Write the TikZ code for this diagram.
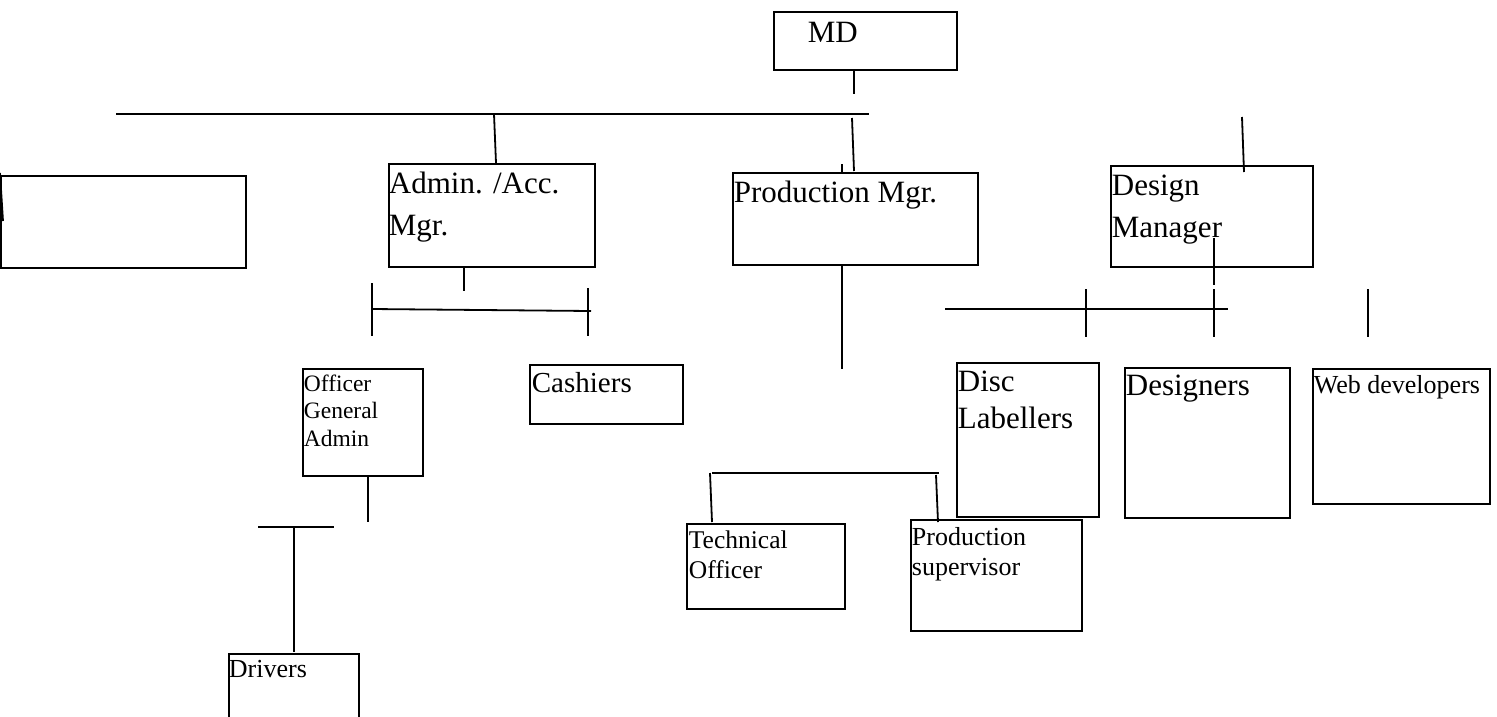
\documentclass[tikz,border=0pt]{standalone}
\usepackage{fontspec}
\setmainfont{Liberation Serif}
\begin{document}
\begin{tikzpicture}[x=1pt,y=-1pt,line width=1.8pt,
  box/.style={draw,line width=1.8pt,inner sep=0pt,anchor=north west},
  lbl/.style={anchor=base west,inner sep=0pt,align=left},
  big/.style={font=\fontsize{31}{42}\selectfont},
  mid/.style={font=\fontsize{26}{30}\selectfont},
  sml/.style={font=\fontsize{23.5}{27.5}\selectfont}]
\useasboundingbox (0,0) rectangle (1497,716);
% boxes
\node[box,minimum width=183pt,minimum height=58pt] (md) at (773,11) {};
\node[box,minimum width=245pt,minimum height=92pt] (blank) at (0,175) {};
\node[box,minimum width=206pt,minimum height=103pt] (admin) at (388,163) {};
\node[box,minimum width=245pt,minimum height=92pt] (prod) at (732,172) {};
\node[box,minimum width=202pt,minimum height=101pt] (design) at (1110,165) {};
\node[box,minimum width=120pt,minimum height=107pt] (officer) at (302,368) {};
\node[box,minimum width=153pt,minimum height=59pt] (cash) at (529,364) {};
\node[box,minimum width=130pt,minimum height=80pt] (drivers) at (228,653) {};
\node[box,minimum width=158pt,minimum height=85pt] (tech) at (686,523) {};
\node[box,minimum width=171pt,minimum height=111pt] (psup) at (910,519) {};
\node[box,minimum width=142pt,minimum height=154pt] (disc) at (956,362) {};
\node[box,minimum width=165pt,minimum height=150pt] (designers) at (1124,367) {};
\node[box,minimum width=177pt,minimum height=135pt] (web) at (1312,368) {};
% texts (anchor = baseline of the last line)
\node[lbl,big] (mdt) at (807,42) {MD};
\node[lbl,big] (admint) at (388,235) {Admin. /Acc.\\Mgr.};
\node[lbl,big] (prodt) at (733,202) {Production Mgr.};
\node[lbl,big] (designt) at (1111,237) {Design\\Manager};
\node[lbl,sml] (officert) at (303,446) {Officer\\General\\Admin};
\node[lbl,font=\fontsize{29}{34}\selectfont] (casht) at (531,392) {Cashiers};
\node[lbl,mid] (driverst) at (228,677) {Drivers};
\node[lbl,font=\fontsize{25.5}{30}\selectfont] (techt) at (688,578) {Technical\\Officer};
\node[lbl,mid] (psupt) at (911,575) {Production\\supervisor};
\node[lbl,font=\fontsize{31}{37}\selectfont] (disct) at (957,428) {Disc\\Labellers};
\node[lbl,big] (designerst) at (1125,395) {Designers};
\node[lbl,mid] (webt) at (1313,393) {Web developers};
% connector end points
\coordinate (busL) at (116,114);
\coordinate (busR) at (869,114);
\coordinate (mdA) at (854,70);
\coordinate (mdB) at (854,94);
\coordinate (blA) at (0,173);
\coordinate (blB) at (3,221);
\coordinate (adA) at (494,114);
\coordinate (adB) at (496,163);
\coordinate (prA) at (852,118);
\coordinate (prB) at (854,171);
\coordinate (prsA) at (842,164);
\coordinate (prsB) at (842,172);
\coordinate (deA) at (1242,117);
\coordinate (deB) at (1244,172);
\coordinate (adbA) at (464,266);
\coordinate (adbB) at (464,291);
\coordinate (abL) at (372,309);
\coordinate (abR) at (591,311);
\coordinate (atLA) at (372,283);
\coordinate (atLB) at (372,336);
\coordinate (atRA) at (588,288);
\coordinate (atRB) at (588,336);
\coordinate (ofA) at (368,475);
\coordinate (ofB) at (368,522);
\coordinate (drL) at (258,527);
\coordinate (drR) at (334,527);
\coordinate (drT) at (294,527);
\coordinate (drB) at (294,652);
\coordinate (pbA) at (842,264);
\coordinate (pbB) at (842,369);
\coordinate (pbL) at (712,473);
\coordinate (pbR) at (939,473);
\coordinate (plA) at (710,473);
\coordinate (plB) at (712,522);
\coordinate (prrA) at (936,475);
\coordinate (prrB) at (938,522);
\coordinate (diA) at (1214,238);
\coordinate (diB) at (1214,285);
\coordinate (diC) at (1214,289);
\coordinate (diD) at (1214,337);
\coordinate (rbL) at (945,309);
\coordinate (rbR) at (1228,309);
\coordinate (t1A) at (1086,289);
\coordinate (t1B) at (1086,337);
\coordinate (t3A) at (1368,289);
\coordinate (t3B) at (1368,337);
% connectors
\draw (busL) -- (busR);
\draw (mdA) -- (mdB);
\draw (blA) -- (blB);
\draw (adA) -- (adB);
\draw (prA) -- (prB);
\draw (prsA) -- (prsB);
\draw (deA) -- (deB);
\draw (adbA) -- (adbB);
\draw (abL) -- (abR);
\draw (atLA) -- (atLB);
\draw (atRA) -- (atRB);
\draw (ofA) -- (ofB);
\draw (drL) -- (drR);
\draw (drT) -- (drB);
\draw (pbA) -- (pbB);
\draw (pbL) -- (pbR);
\draw (plA) -- (plB);
\draw (prrA) -- (prrB);
\draw (diA) -- (diB);
\draw (diC) -- (diD);
\draw (rbL) -- (rbR);
\draw (t1A) -- (t1B);
\draw (t3A) -- (t3B);
\end{tikzpicture}
\end{document}
